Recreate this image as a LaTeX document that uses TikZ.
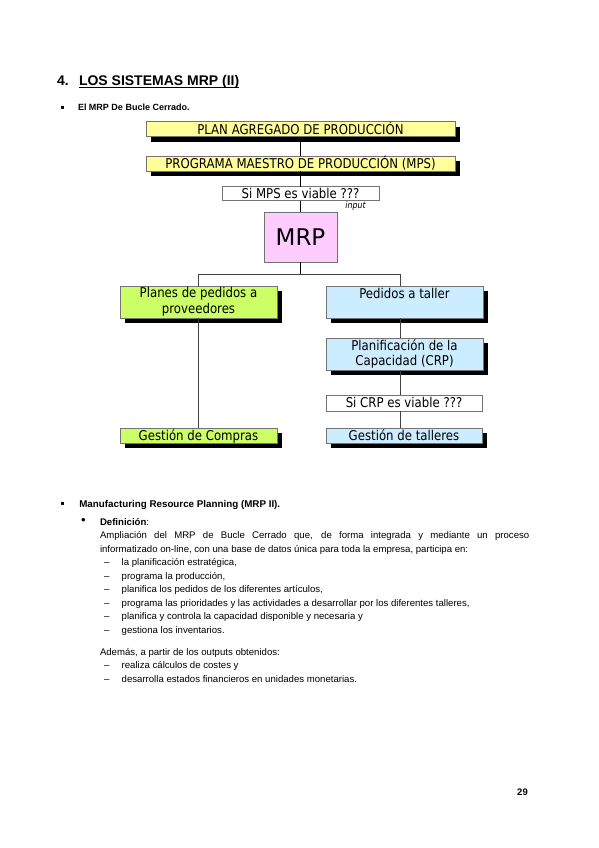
\documentclass[tikz,border=0pt]{standalone}
\usepackage{fontspec}
\setmainfont{Liberation Sans}
\newfontfamily\tahoma[FakeStretch=0.87]{DejaVu Sans}
\newfontfamily\dejavu{DejaVu Sans}
\usetikzlibrary{shadows}
\definecolor{cyellow}{HTML}{FFFF99}
\definecolor{cgreen}{HTML}{CCFF66}
\definecolor{cblue}{HTML}{CCECFF}
\definecolor{cpink}{HTML}{FFCCFF}
\begin{document}
\begin{tikzpicture}[x=1pt,y=-1pt,
  every node/.style={inner sep=0pt, outer sep=0pt},
  dbox/.style={draw=black!55, line width=0.6pt, font=\tahoma\fontsize{13.5}{16.5}\selectfont, align=center, anchor=center},
  oneline/.style={text height=9.8pt, text depth=0pt},
  shad/.style={drop shadow={shadow xshift=5pt, shadow yshift=-5pt, fill=black, opacity=1}},
  conn/.style={draw=black, line width=1.2pt},
  conn2/.style={draw=black!75, line width=0.9pt},
  body/.style={font=\fontsize{9.6}{13.7}\selectfont, anchor=base west},
  bodyb/.style={font=\bfseries\fontsize{9.8}{13.7}\selectfont, anchor=base west},
]
\useasboundingbox (0,0) rectangle (599,848);
\fill[white] (0,0) rectangle (599,848);

% heading
\node[font=\bfseries\fontsize{14}{14}\selectfont, anchor=base west] (num) at (57,85.7) {4.};
\node[font=\bfseries\fontsize{14}{14}\selectfont, anchor=base west] (title) at (79,85.7) {LOS SISTEMAS MRP (II)};
\draw[line width=0.9pt] ([yshift=-2.2pt]title.base west) -- ([yshift=-2.2pt]title.base east);

\node[font=\dejavu\fontsize{6}{6}\selectfont] (b1) at (62.7,107.7) {▪};
\node[bodyb, font=\bfseries\fontsize{9}{13}\selectfont] (sub1) at (78,111) {El MRP De Bucle Cerrado.};

% diagram
\node[dbox, oneline, shad, fill=cyellow, minimum width=309pt, minimum height=15pt] (plan) at (300.5,129.2) {PLAN AGREGADO DE PRODUCCIÓN};
\node[dbox, oneline, shad, fill=cyellow, minimum width=309pt, minimum height=15pt] (mps) at (300.5,163.5) {PROGRAMA MAESTRO DE PRODUCCIÓN (MPS)};
\node[dbox, oneline, fill=white, minimum width=157pt, minimum height=14pt] (simps) at (300.5,193.7) {Si MPS es viable ???};
\node[font=\tahoma\itshape\fontsize{9}{9}\selectfont] (inp) at (355.5,206.5) {input};
\node[draw=black!55, line width=0.6pt, fill=cpink, minimum width=73pt, minimum height=50pt, text height=16.8pt, text depth=0pt, font=\dejavu\fontsize{23}{23}\selectfont] (mrp) at (300.5,237) {MRP};

\node[dbox, shad, fill=cgreen, minimum width=157pt, minimum height=32pt] (planes) at (198.5,302) {Planes de pedidos a\\proveedores};
\node[dbox, shad, fill=cblue, minimum width=157pt, minimum height=32pt] (pedidos) at (404.5,302) {Pedidos a taller\\\mbox{}};
\node[dbox, shad, fill=cblue, minimum width=157pt, minimum height=32pt, font=\tahoma\fontsize{13.5}{15}\selectfont] (planif) at (404.5,354) {Planificación de la\\Capacidad (CRP)};
\node[dbox, oneline, fill=white, minimum width=156pt, minimum height=16pt] (sicrp) at (404,403) {Si CRP es viable ???};
\node[dbox, oneline, shad, fill=cgreen, minimum width=157pt, minimum height=15pt] (compras) at (198.5,435.5) {Gestión de Compras};
\node[dbox, oneline, shad, fill=cblue, minimum width=156pt, minimum height=15pt] (talleres) at (404,435.5) {Gestión de talleres};

\coordinate (br) at (300.5,274.5);
\coordinate (rsp) at (400,0);
\draw[conn] (plan) -- (mps);
\draw[conn] (mps) -- (simps);
\draw[conn] (simps) -- (mrp);
\draw[conn] (mrp) -- (br);
\draw[conn2] (planes.north) |- (br) -| (rsp |- pedidos.north);
\draw[conn2] (planes) -- (compras);
\draw[conn2] (rsp |- pedidos.south) -- (rsp |- planif.north);
\draw[conn2] (rsp |- planif.south) -- (rsp |- sicrp.north);
\draw[conn2] (rsp |- sicrp.south) -- (rsp |- talleres.north);

% text section
\node[font=\dejavu\fontsize{6}{6}\selectfont] (b2) at (62.7,504) {▪};
\node[bodyb] (sub2) at (79.3,507.5) {Manufacturing Resource Planning (MRP II).};
\node[font=\fontsize{13}{13}\selectfont] (b3) at (83.3,521.7) {•};
\node[body] (def) at (100,525) {{\bfseries Definición}:};
\node[body] (l1) at (100,538.7) {\makebox[429.3pt][s]{Ampliación del MRP de Bucle Cerrado que, de forma integrada y mediante un proceso}};
\node[body] (l2) at (100,552) {informatizado on-line, con una base de datos única para toda la empresa, participa en:};
\foreach \yy/\tt [count=\i] in {565.7/{la planificación estratégica,},
  579/{programa la producción,},
  592.3/{planifica los pedidos de los diferentes artículos,},
  606/{programa las prioridades y las actividades a desarrollar por los diferentes talleres,},
  619.7/{planifica y controla la capacidad disponible y necesaria y},
  633.5/{gestiona los inventarios.}}{
  \node[body] (d\i) at (104,\yy) {–};
  \node[body] (t\i) at (121.7,\yy) {\tt};
}
\node[body] (ad) at (100,655.7) {Además, a partir de los outputs obtenidos:};
\foreach \yy/\tt [count=\i] in {668.7/{realiza cálculos de costes y},
  682/{desarrolla estados financieros en unidades monetarias.}}{
  \node[body] (e\i) at (104,\yy) {–};
  \node[body] (u\i) at (121.7,\yy) {\tt};
}
\node[font=\bfseries\fontsize{9.5}{9.5}\selectfont] (pg) at (522.5,792.7) {29};
\end{tikzpicture}
\end{document}
